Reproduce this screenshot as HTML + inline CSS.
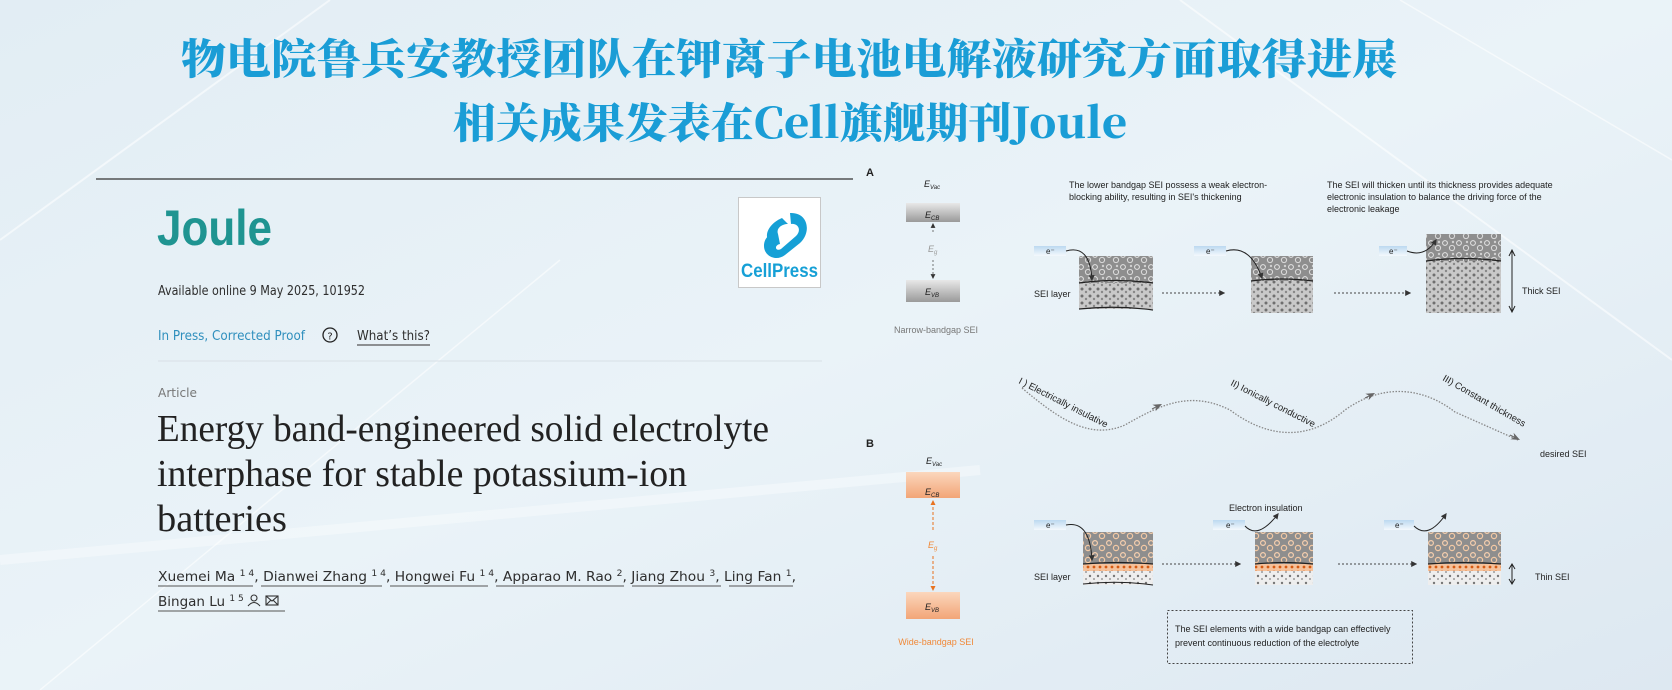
<!DOCTYPE html>
<html><head><meta charset="utf-8"><style>
html,body{margin:0;padding:0;width:1672px;height:690px;overflow:hidden;background:#e6f0f6}
svg{display:block}
</style></head><body>
<svg width="1672" height="690" viewBox="0 0 1672 690" xmlns="http://www.w3.org/2000/svg">
<defs>
<linearGradient id="bg" x1="0" y1="0" x2="1" y2="1">
<stop offset="0" stop-color="#e2edf4"/><stop offset="0.5" stop-color="#eaf3f8"/><stop offset="1" stop-color="#dde8f1"/>
</linearGradient>
<linearGradient id="gbox" x1="0" y1="0" x2="0" y2="1"><stop offset="0" stop-color="#e8e8e8"/><stop offset="1" stop-color="#9a9a9a"/></linearGradient>
<linearGradient id="obox" x1="0" y1="0" x2="0" y2="1"><stop offset="0" stop-color="#fbd7bd"/><stop offset="1" stop-color="#f2a577"/></linearGradient>
<linearGradient id="ebox" x1="0" y1="0" x2="0" y2="1"><stop offset="0" stop-color="#bcd9f0"/><stop offset="1" stop-color="#f4f9fd"/></linearGradient>
<pattern id="grain" width="14" height="12" patternUnits="userSpaceOnUse">
<rect width="14" height="12" fill="#8e8e8e"/>
<circle cx="3" cy="3" r="2.4" fill="none" stroke="#e6e6e6" stroke-width="1"/>
<circle cx="10" cy="8" r="2.6" fill="none" stroke="#dcdcdc" stroke-width="1"/>
<circle cx="11" cy="2" r="1.2" fill="#d0d0d0"/>
</pattern>
<pattern id="grainO" width="14" height="12" patternUnits="userSpaceOnUse">
<rect width="14" height="12" fill="#8e8e8e"/>
<circle cx="3" cy="3" r="2.4" fill="none" stroke="#f6cfae" stroke-width="1.2"/>
<circle cx="10" cy="8" r="2.6" fill="none" stroke="#f3c9a4" stroke-width="1.2"/>
</pattern>
<pattern id="speck" width="8" height="7" patternUnits="userSpaceOnUse">
<rect width="8" height="7" fill="#c9c9c9"/>
<circle cx="2" cy="2" r="1.5" fill="#6f6f6f"/><circle cx="6" cy="5" r="1.2" fill="#888"/>
</pattern>
<pattern id="speckL" width="8" height="7" patternUnits="userSpaceOnUse">
<rect width="8" height="7" fill="#eeeeee"/>
<circle cx="2" cy="2" r="1.2" fill="#777"/><circle cx="6" cy="5" r="1" fill="#999"/>
</pattern>
<pattern id="orng" width="6" height="5" patternUnits="userSpaceOnUse">
<rect width="6" height="5" fill="#f5c19a"/><circle cx="2" cy="2" r="1.4" fill="#d45a12"/>
</pattern>
<marker id="ah" viewBox="0 0 10 10" refX="8" refY="5" markerWidth="6" markerHeight="6" orient="auto"><path d="M0,0 L10,5 L0,10 z" fill="#333"/></marker>
<marker id="ahg" viewBox="0 0 10 10" refX="5" refY="5" markerWidth="9" markerHeight="9" orient="auto"><path d="M0,1 L10,5 L0,9 L3,5 z" fill="#666"/></marker>
<marker id="aho" viewBox="0 0 10 10" refX="8" refY="5" markerWidth="5" markerHeight="5" orient="auto"><path d="M0,0 L10,5 L0,10 z" fill="#e8721f"/></marker>
</defs>
<rect width="1672" height="690" fill="url(#bg)"/>
<g stroke="#ffffff" stroke-opacity="0.55" fill="none">
<path d="M0 240 L330 0" stroke-width="2"/>
<path d="M40 690 L560 260" stroke-width="1.5"/>
<path d="M1180 0 L1672 360" stroke-width="2"/>
<path d="M1400 0 L1672 160" stroke-width="1.5"/>
<path d="M0 560 L980 470" stroke-width="10" stroke-opacity="0.35"/>
</g>

<!-- Chinese title -->
<g font-family="'Noto Serif CJK SC','Liberation Serif',serif" font-weight="900" fill="#1a9dd6">
<text x="181" y="74" font-size="42" textLength="1216" lengthAdjust="spacingAndGlyphs">物电院鲁兵安教授团队在钾离子电池电解液研究方面取得进展</text>
<text x="453" y="138" font-size="42" textLength="674" lengthAdjust="spacingAndGlyphs">相关成果发表在Cell旗舰期刊Joule</text>
</g>

<line x1="96" y1="179" x2="853" y2="179" stroke="#333" stroke-width="1.3"/>

<text x="157" y="245" font-family="'Liberation Sans',sans-serif" font-weight="bold" font-size="50" fill="#1f9491" textLength="115" lengthAdjust="spacingAndGlyphs">Joule</text>

<rect x="738.5" y="197.5" width="82" height="90" fill="#fff" stroke="#c8c8c8"/>
<g fill="#16a0d6">
<path d="M790 213 C808 212 812 232 800 243 L785 255 C776 262 764 256 764 246 C764 238 770 232 778 234 L780 244 C774 245 775 252 781 249 L796 236 C802 230 798 223 791 224 Z"/>
<path d="M782 218 C772 222 764 232 768 240 L778 234 C776 228 782 224 788 224 Z"/>
</g>
<text x="741" y="277" font-family="'Liberation Sans',sans-serif" font-weight="bold" font-size="19" fill="#16a0d6" textLength="77" lengthAdjust="spacingAndGlyphs">CellPress</text>

<g font-family="'DejaVu Sans','Liberation Sans',sans-serif">
<text x="158" y="295" font-size="13" fill="#2e2e2e" textLength="207" lengthAdjust="spacingAndGlyphs">Available online 9 May 2025, 101952</text>
<text x="158" y="340" font-size="13" fill="#2f8fbd" textLength="147" lengthAdjust="spacingAndGlyphs">In Press, Corrected Proof</text>
<circle cx="330" cy="335" r="7" fill="none" stroke="#222" stroke-width="1.3"/>
<text x="330" y="339.5" font-size="10" text-anchor="middle" fill="#222">?</text>
<text x="357" y="340" font-size="13" fill="#2e2e2e" textLength="73" lengthAdjust="spacingAndGlyphs">What’s this?</text>
<line x1="357" y1="345" x2="430" y2="345" stroke="#555" stroke-width="1.2"/>
<line x1="158" y1="361" x2="822" y2="361" stroke="#d8e0e6" stroke-width="1"/>
<text x="158" y="397" font-size="12.5" fill="#777" textLength="39" lengthAdjust="spacingAndGlyphs">Article</text>
</g>

<g font-family="'Liberation Serif',serif" font-size="38" fill="#222">
<text x="157" y="441" textLength="612" lengthAdjust="spacingAndGlyphs">Energy band-engineered solid electrolyte</text>
<text x="157" y="486" textLength="530" lengthAdjust="spacingAndGlyphs">interphase for stable potassium-ion</text>
<text x="157" y="531" textLength="130" lengthAdjust="spacingAndGlyphs">batteries</text>
</g>

<g font-family="'DejaVu Sans','Liberation Sans',sans-serif" font-size="13.5" fill="#2e2e2e">
<text x="158" y="581" textLength="638" lengthAdjust="spacingAndGlyphs">Xuemei Ma <tspan font-size="9" dy="-5">1 4</tspan><tspan dy="5">, Dianwei Zhang </tspan><tspan font-size="9" dy="-5">1 4</tspan><tspan dy="5">, Hongwei Fu </tspan><tspan font-size="9" dy="-5">1 4</tspan><tspan dy="5">, Apparao M. Rao </tspan><tspan font-size="9" dy="-5">2</tspan><tspan dy="5">, Jiang Zhou </tspan><tspan font-size="9" dy="-5">3</tspan><tspan dy="5">, Ling Fan </tspan><tspan font-size="9" dy="-5">1</tspan><tspan dy="5">,</tspan></text>
<text x="158" y="606">Bingan Lu <tspan font-size="9" dy="-5">1 5</tspan></text>
</g>
<g stroke="#555" stroke-width="1">
<line x1="158" y1="586" x2="253" y2="586"/><line x1="261" y1="586" x2="382" y2="586"/><line x1="390" y1="586" x2="488" y2="586"/>
<line x1="496" y1="586" x2="624" y2="586"/><line x1="632" y1="586" x2="721" y2="586"/><line x1="729" y1="586" x2="793" y2="586"/>
<line x1="158" y1="611" x2="285" y2="611"/>
</g>
<g fill="none" stroke="#333" stroke-width="1.1">
<circle cx="254" cy="598" r="3"/><path d="M248 606 Q254 599 260 606"/>
<rect x="266" y="596" width="12" height="9"/><path d="M266 596 L272 601 L278 596 M266 605 L271 600 M278 605 L273 600"/>
</g>

<!-- Diagram A -->
<g font-family="'Liberation Sans',sans-serif" fill="#222">
<text x="866" y="176" font-size="11" font-weight="bold">A</text>
<text x="866" y="447" font-size="11" font-weight="bold">B</text>
<text x="924" y="187" font-size="9" font-style="italic">E<tspan font-size="6" dy="2">Vac</tspan></text>
<rect x="906" y="203" width="54" height="19" fill="url(#gbox)"/>
<text x="925" y="218" font-size="9" font-style="italic">E<tspan font-size="6" dy="2">CB</tspan></text>
<line x1="933" y1="232" x2="933" y2="224" stroke="#555" stroke-width="0.8" stroke-dasharray="2,2" marker-end="url(#ah)"/>
<text x="928" y="252" font-size="9" font-style="italic" fill="#999">E<tspan font-size="6" dy="2">g</tspan></text>
<line x1="933" y1="260" x2="933" y2="278" stroke="#555" stroke-width="0.8" stroke-dasharray="2,2" marker-end="url(#ah)"/>
<rect x="906" y="280" width="54" height="22" fill="url(#gbox)"/>
<text x="925" y="295" font-size="9" font-style="italic">E<tspan font-size="6" dy="2">VB</tspan></text>
<text x="936" y="333" font-size="9" fill="#777" text-anchor="middle">Narrow-bandgap SEI</text>

<text x="1069" y="188" font-size="9">The lower bandgap SEI possess a weak electron-</text>
<text x="1069" y="200" font-size="9">blocking ability, resulting in SEI's thickening</text>
<text x="1327" y="188" font-size="9">The SEI will thicken until its thickness provides adequate</text>
<text x="1327" y="200" font-size="9">electronic insulation to balance the driving force of the</text>
<text x="1327" y="212" font-size="9">electronic leakage</text>
</g>
<g font-family="'Liberation Sans',sans-serif" font-size="9" fill="#222">
<!-- row A -->
<rect x="1034" y="246" width="32" height="10" fill="url(#ebox)"/><text x="1046" y="254" font-size="8">e⁻</text>
<rect x="1079" y="256" width="74" height="27" fill="url(#grain)"/>
<rect x="1079" y="283" width="74" height="26" fill="url(#speck)"/>
<path d="M1079 283 Q1116 278 1153 283" stroke="#222" stroke-width="1.3" fill="none"/>
<path d="M1079 309 Q1116 305 1153 310" stroke="#222" stroke-width="1.2" fill="none"/>
<path d="M1066 251 Q1090 244 1092 280" stroke="#222" stroke-width="1" fill="none" marker-end="url(#ah)"/>
<text x="1034" y="297">SEI layer</text>
<line x1="1162" y1="293" x2="1224" y2="293" stroke="#444" stroke-dasharray="2,2" marker-end="url(#ah)"/>
<rect x="1194" y="246" width="32" height="10" fill="url(#ebox)"/><text x="1206" y="254" font-size="8">e⁻</text>
<rect x="1251" y="256" width="62" height="25" fill="url(#grain)"/>
<rect x="1251" y="281" width="62" height="32" fill="url(#speck)"/>
<path d="M1251 281 Q1282 277 1313 281" stroke="#222" stroke-width="1.3" fill="none"/>
<path d="M1226 251 Q1250 244 1262 278" stroke="#222" stroke-width="1" fill="none" marker-end="url(#ah)"/>
<line x1="1334" y1="293" x2="1410" y2="293" stroke="#444" stroke-dasharray="2,2" marker-end="url(#ah)"/>
<rect x="1379" y="246" width="28" height="10" fill="url(#ebox)"/><text x="1389" y="254" font-size="8">e⁻</text>
<rect x="1426" y="234" width="75" height="27" fill="url(#grain)"/>
<rect x="1426" y="261" width="75" height="52" fill="url(#speck)"/>
<path d="M1426 261 Q1463 256 1501 261" stroke="#222" stroke-width="1.3" fill="none"/>
<path d="M1407 251 Q1425 258 1436 240" stroke="#222" stroke-width="1" fill="none" marker-end="url(#ah)"/>
<line x1="1512" y1="250" x2="1512" y2="312" stroke="#222" stroke-width="1"/>
<path d="M1509 256 L1512 250 L1515 256 M1509 306 L1512 312 L1515 306" stroke="#222" fill="none"/>
<text x="1522" y="294">Thick SEI</text>

<!-- wave -->
<path d="M1022 388 C1060 420 1090 440 1125 425 C1160 405 1190 390 1230 410 C1270 440 1310 440 1345 410 C1380 385 1420 385 1455 412 L1518 440" stroke="#888" stroke-width="1.3" stroke-dasharray="1.5,1.5" fill="none"/>
<path d="M1152 409 l6 -3" stroke="#666" marker-end="url(#ahg)"/>
<path d="M1365 398 l6 -3" stroke="#666" marker-end="url(#ahg)"/>
<path d="M1510 435 l6 3" stroke="#666" marker-end="url(#ahg)"/>
<text transform="translate(1018,383) rotate(27)" font-size="9.5">I ) Electrically insulative</text>
<text transform="translate(1230,385) rotate(27)" font-size="9.5">II) Ionically conductive</text>
<text transform="translate(1442,380) rotate(30)" font-size="9.5">III) Constant thickness</text>
<text x="1540" y="457">desired SEI</text>

<!-- Diagram B left -->
<text x="926" y="464" font-style="italic">E<tspan font-size="6" dy="2">Vac</tspan></text>
<rect x="906" y="472" width="54" height="26" fill="url(#obox)"/>
<text x="925" y="495" font-style="italic">E<tspan font-size="6" dy="2">CB</tspan></text>
<line x1="933" y1="530" x2="933" y2="501" stroke="#e8721f" stroke-width="1" stroke-dasharray="3,2" marker-end="url(#aho)"/>
<text x="928" y="548" font-style="italic" fill="#f08a3a">E<tspan font-size="6" dy="2">g</tspan></text>
<line x1="933" y1="556" x2="933" y2="590" stroke="#e8721f" stroke-width="1" stroke-dasharray="3,2" marker-end="url(#aho)"/>
<rect x="906" y="592" width="54" height="27" fill="url(#obox)"/>
<text x="925" y="610" font-style="italic">E<tspan font-size="6" dy="2">VB</tspan></text>
<text x="936" y="645" fill="#f08a3a" text-anchor="middle">Wide-bandgap SEI</text>

<!-- row B -->
<text x="1229" y="511">Electron insulation</text>
<rect x="1034" y="520" width="32" height="10" fill="url(#ebox)"/><text x="1046" y="528" font-size="8">e⁻</text>
<rect x="1083" y="532" width="70" height="32" fill="url(#grainO)"/>
<rect x="1083" y="564" width="70" height="7" fill="url(#orng)"/>
<rect x="1083" y="571" width="70" height="14" fill="url(#speckL)"/>
<path d="M1083 564 Q1118 561 1153 564" stroke="#222" stroke-width="1.2" fill="none"/>
<path d="M1083 584 Q1118 580 1153 585" stroke="#222" stroke-width="1" fill="none"/>
<path d="M1066 525 Q1090 520 1092 560" stroke="#222" stroke-width="1" fill="none" marker-end="url(#ah)"/>
<text x="1034" y="580">SEI layer</text>
<line x1="1162" y1="564" x2="1240" y2="564" stroke="#444" stroke-dasharray="2,2" marker-end="url(#ah)"/>
<rect x="1213" y="520" width="32" height="10" fill="url(#ebox)"/><text x="1226" y="528" font-size="8">e⁻</text>
<rect x="1255" y="532" width="58" height="32" fill="url(#grainO)"/>
<rect x="1255" y="564" width="58" height="7" fill="url(#orng)"/>
<rect x="1255" y="571" width="58" height="14" fill="url(#speckL)"/>
<path d="M1255 564 Q1284 561 1313 564" stroke="#222" stroke-width="1.2" fill="none"/>
<path d="M1245 526 Q1258 540 1278 514" stroke="#222" stroke-width="1" fill="none" marker-end="url(#ah)"/>
<line x1="1338" y1="564" x2="1416" y2="564" stroke="#444" stroke-dasharray="2,2" marker-end="url(#ah)"/>
<rect x="1384" y="520" width="30" height="10" fill="url(#ebox)"/><text x="1395" y="528" font-size="8">e⁻</text>
<rect x="1428" y="532" width="73" height="32" fill="url(#grainO)"/>
<rect x="1428" y="564" width="73" height="7" fill="url(#orng)"/>
<rect x="1428" y="571" width="73" height="14" fill="url(#speckL)"/>
<path d="M1428 564 Q1464 561 1501 564" stroke="#222" stroke-width="1.2" fill="none"/>
<path d="M1414 526 Q1428 540 1446 514" stroke="#222" stroke-width="1" fill="none" marker-end="url(#ah)"/>
<line x1="1512" y1="564" x2="1512" y2="584" stroke="#222"/>
<path d="M1509 569 L1512 564 L1515 569 M1509 579 L1512 584 L1515 579" stroke="#222" fill="none"/>
<text x="1535" y="580">Thin SEI</text>

<rect x="1167.5" y="610.5" width="245" height="53" fill="none" stroke="#444" stroke-dasharray="2,2"/>
<text x="1175" y="632">The SEI elements with a wide bandgap can effectively</text>
<text x="1175" y="646">prevent continuous reduction of the electrolyte</text>
</g>
</svg>
</body></html>
